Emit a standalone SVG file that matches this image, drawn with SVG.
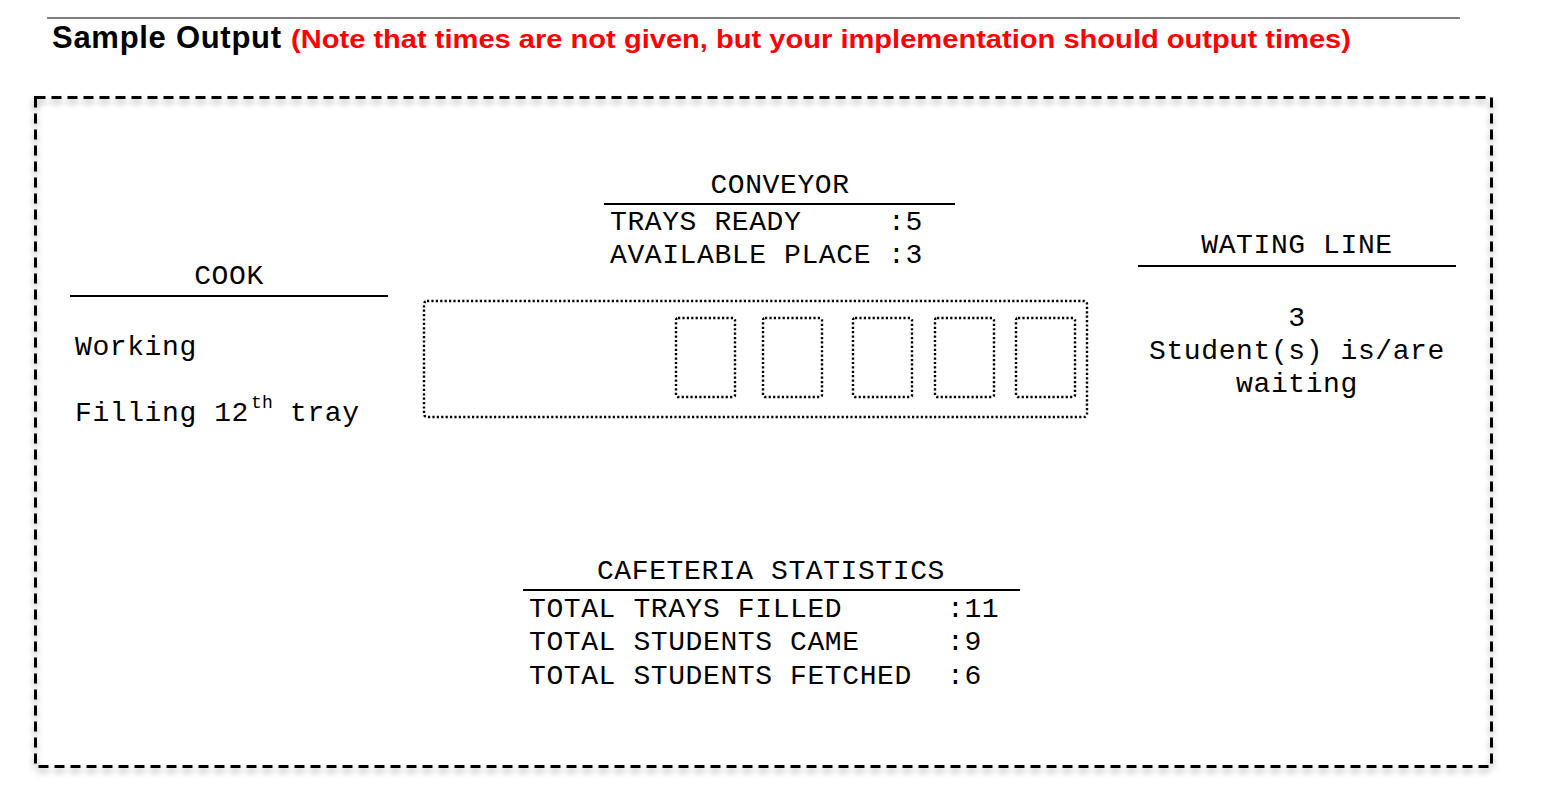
<svg xmlns="http://www.w3.org/2000/svg" width="1560" height="800" viewBox="0 0 1560 800">
<defs>
<style>
.mono{font-family:"Liberation Mono","Courier New",monospace;font-size:28px;letter-spacing:0.6px;fill:#000}
.mid{text-anchor:middle}
.rule{stroke:#000;stroke-width:2}
.dot{fill:none;stroke:#000;stroke-width:2.4;stroke-dasharray:2.2 2.2}
</style>
<filter id="sh" x="-5%" y="-5%" width="110%" height="115%">
<feDropShadow dx="0" dy="4" stdDeviation="3" flood-color="#000" flood-opacity="0.35"/>
</filter>
</defs>
<rect width="1560" height="800" fill="#fff"/>
<g id="header">
<line x1="47" y1="18" x2="1460" y2="18" stroke="#000" stroke-width="1.2"/>
<text x="52" y="48" font-family="Liberation Sans,Arial,sans-serif" font-weight="bold" font-size="31" textLength="229" lengthAdjust="spacing">Sample Output</text>
<text x="291" y="48" font-family="Liberation Sans,Arial,sans-serif" font-weight="bold" font-size="26.5" fill="#ff0000" textLength="1060" lengthAdjust="spacingAndGlyphs">(Note that times are not given, but your implementation should output times)</text>
</g>
<g id="frame">
<rect x="35.5" y="97.5" width="1456" height="669" fill="none" stroke="#000" stroke-width="3" stroke-dasharray="10 6" filter="url(#sh)"/>
</g>
<g id="cook">
<text class="mono mid" x="229" y="284">COOK</text>
<line class="rule" x1="70" y1="296" x2="388" y2="296"/>
<text class="mono" x="75" y="355">Working</text>
<text class="mono" x="75" y="421">Filling 12</text>
<text class="mono" x="251" y="408" style="font-size:18px;letter-spacing:0.3px">th</text>
<text class="mono" x="290" y="421">tray</text>
</g>
<g id="conveyor">
<text class="mono mid" x="780" y="193">CONVEYOR</text>
<line class="rule" x1="604" y1="204" x2="955" y2="204"/>
<text class="mono" x="610" y="230">TRAYS READY</text>
<text class="mono" x="888" y="230">:5</text>
<text class="mono" x="610" y="263">AVAILABLE PLACE</text>
<text class="mono" x="888" y="263">:3</text>
<rect class="dot" x="424" y="301" width="663" height="116" rx="3"/>
<rect class="dot" x="676" y="318" width="59" height="79" rx="2"/>
<rect class="dot" x="763" y="318" width="59" height="79" rx="2"/>
<rect class="dot" x="853" y="318" width="59" height="79" rx="2"/>
<rect class="dot" x="935" y="318" width="59" height="79" rx="2"/>
<rect class="dot" x="1016" y="318" width="59" height="79" rx="2"/>
</g>
<g id="waiting">
<text class="mono mid" x="1297" y="253">WATING LINE</text>
<line class="rule" x1="1138" y1="266" x2="1456" y2="266"/>
<text class="mono mid" x="1297" y="326">3</text>
<text class="mono mid" x="1297" y="359">Student(s) is/are</text>
<text class="mono mid" x="1297" y="392">waiting</text>
</g>
<g id="stats">
<text class="mono mid" x="771" y="579">CAFETERIA STATISTICS</text>
<line class="rule" x1="523" y1="590" x2="1020" y2="590"/>
<text class="mono" x="529" y="617">TOTAL TRAYS FILLED</text>
<text class="mono" x="947" y="617">:11</text>
<text class="mono" x="529" y="650">TOTAL STUDENTS CAME</text>
<text class="mono" x="947" y="650">:9</text>
<text class="mono" x="529" y="684">TOTAL STUDENTS FETCHED</text>
<text class="mono" x="947" y="684">:6</text>
</g>
<g id="connectors"/>
</svg>
